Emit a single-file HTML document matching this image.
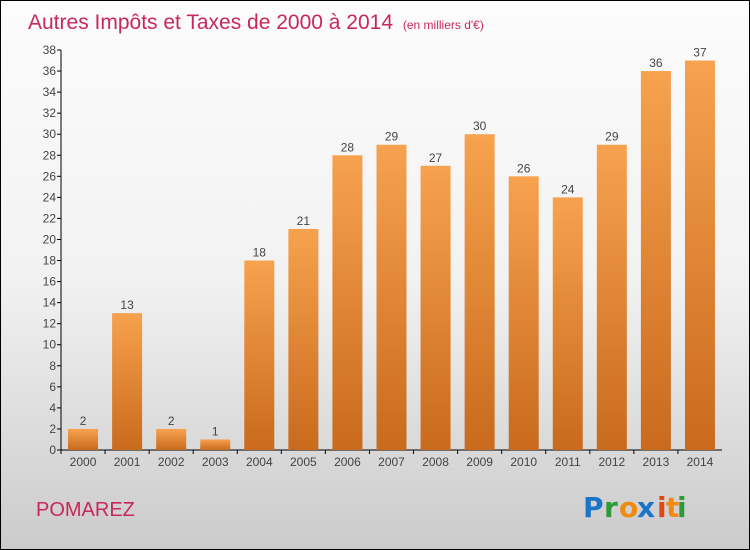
<!DOCTYPE html>
<html><head><meta charset="utf-8"><style>
body{margin:0}
#wrap{width:748px;height:548px;border:1px solid #000;background:linear-gradient(#fcfcfc 0%,#f2f2f2 50%,#cbcbcb 100%);position:relative;font-family:"Liberation Sans",sans-serif;overflow:hidden}
</style></head><body>
<div id="wrap">
<svg id="chart" width="748" height="548" style="position:absolute;left:0;top:0">
<defs><linearGradient id="bg" x1="0" y1="0" x2="0" y2="1"><stop offset="0" stop-color="#f7a24f"/><stop offset="1" stop-color="#c96a1c"/></linearGradient></defs>
<text x="27" y="28" font-size="21" fill="#c8285a">Autres Impôts et Taxes de 2000 à 2014 <tspan font-size="12" dx="4">(en milliers d'€)</tspan></text>
<text x="35" y="515" font-size="20" fill="#c8285a">POMAREZ</text>
<g font-size="28" font-weight="bold" font-family="'DejaVu Sans',sans-serif">
<text x="582" y="516" fill="#1a75c9">P</text><text x="603" y="516" fill="#2e9a3a">r</text><text x="618" y="516" fill="#f08a10">o</text><text x="636" y="516" fill="#1a75c9">x</text><text x="656" y="516" fill="#e04a10">i</text><text x="665" y="516" fill="#f08a10">t</text><text x="676" y="516" fill="#2e9a3a">i</text></g>
<g id="axes"></g><g id="bars"></g>
</svg>
</div>
<script>
const years=["2000","2001","2002","2003","2004","2005","2006","2007","2008","2009","2010","2011","2012","2013","2014"];
const values=[2,13,2,1,18,21,28,29,27,30,26,24,29,36,37];
const yTicks=[0,2,4,6,8,10,12,14,16,18,20,22,24,26,28,30,32,34,36,38];
const NS="http://www.w3.org/2000/svg";
const x0=60,x1=721,yb=449,yt=49,ymax=38;
const y=v=>yb-(v/ymax)*(yb-yt);
const step=(x1-x0)/years.length;
const xc=i=>x0+step*(i+0.5);
function mk(t,a,p){const e=document.createElementNS(NS,t);for(const k in a)e.setAttribute(k,a[k]);p.appendChild(e);return e;}
const ax=document.getElementById('axes'),bg=document.getElementById('bars');
let l=mk('line',{x1:x0,y1:yt,x2:x0,y2:yb,stroke:'#000'},ax);


l=mk('line',{x1:x0,y1:yb,x2:x1,y2:yb,stroke:'#000'},ax);


yTicks.forEach(v=>{
 mk('line',{x1:x0-4,y1:y(v),x2:x0,y2:y(v),stroke:'#000'},ax);
 const t=mk('text',{x:x0-5,y:y(v)+4,'font-size':12,fill:'#444','text-anchor':'end'},ax);t.textContent=v;
 
 
});
years.forEach((yr,i)=>{
 mk('line',{x1:x0+step*i,y1:yb,x2:x0+step*i,y2:yb+4,stroke:'#000'},ax);
 const t=mk('text',{x:xc(i),y:yb+16,'font-size':12,fill:'#444','text-anchor':'middle'},ax);t.textContent=yr;
 
 
 const v=values[i];
 const r=mk('rect',{x:xc(i)-15,y:y(v),width:30,height:yb-y(v),fill:'url(#bg)'},bg);
 
 
 const lb=mk('text',{x:xc(i),y:y(v)-4,'font-size':12,fill:'#444','text-anchor':'middle'},bg);lb.textContent=v;
 
 
});
</script>
</body></html>
